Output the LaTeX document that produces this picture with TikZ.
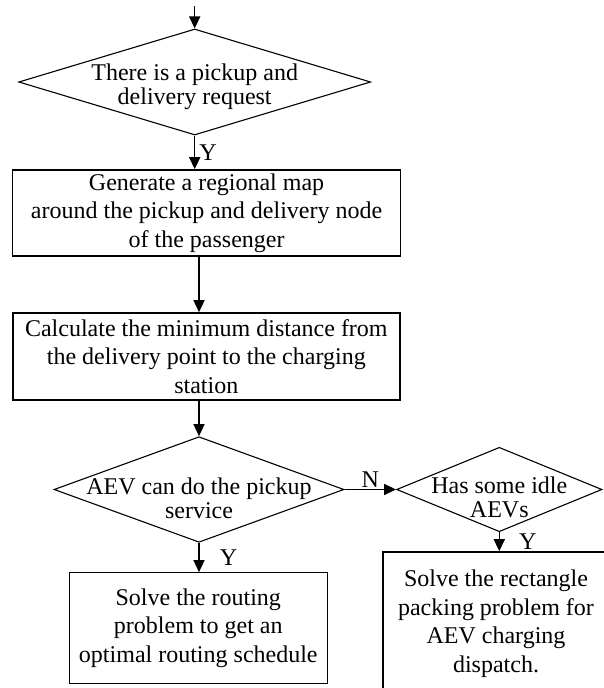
\documentclass[tikz,border=0pt]{standalone}
\usepackage{fontspec}
\setmainfont{Liberation Serif}
\usetikzlibrary{
	arrows.meta,
	positioning,
	shapes.geometric
}

\begin{document}
\begin{tikzpicture}[
 x=1pt,y=-1pt,
 procbox/.style={draw,rectangle,line width=1.6pt,inner sep=2pt,align=center,
   font=\fontsize{24}{28.5}\selectfont},
 decision/.style={draw,diamond,line width=1.1pt,inner sep=0pt},
 dtext/.style={align=center,inner sep=0pt,font=\fontsize{24}{24}\selectfont},
 answer/.style={inner sep=0pt,font=\fontsize{24}{24}\selectfont},
 flow/.style={-{Triangle[length=12pt,width=11pt]},line width=1.5pt}
]
 \useasboundingbox (0,0) rectangle (604,688);
 \clip (0,0) rectangle (604,688);
 \coordinate (entry) at (194.7,6);
 \node[decision,minimum width=352,minimum height=106] (request) at (194.7,82) {};
 \node[dtext] (requesttxt) at (194.7,86.4) {There is a pickup and\\delivery request};
 \node[procbox,minimum width=388,minimum height=86] (regionmap) at (206.6,213)
   {Generate a regional map\\around the pickup and delivery node\\of the passenger};
 \node[procbox,minimum width=387,minimum height=87] (mindist) at (206.3,356.5)
   {Calculate the minimum distance from\\the delivery point to the charging\\station};
 \node[decision,minimum width=290,minimum height=105.6] (canserve) at (199,489.5) {};
 \node[dtext] (canservetxt) at (199,497.8) {AEV can do the pickup\\service};
 \node[decision,minimum width=205.4,minimum height=84.4] (idle) at (499.3,489.5) {};
 \node[dtext] (idletxt) at (499.3,497.8) {Has some idle\\AEVs};
 \node[procbox,line width=1.1pt,minimum width=258.5,minimum height=110.6] (routing)
   at (198.3,628) {Solve the routing\\problem to get an\\optimal routing schedule};
 \node[procbox,minimum width=226,minimum height=143] (packing) at (496,623.5)
   {Solve the rectangle\\packing problem for\\AEV charging\\dispatch.};
 \draw[flow] (entry) -- (request.north);
 \draw[flow] (request.south) --
   node[answer,right=4pt] (yes1) {Y} (request.south |- regionmap.north);
 \draw[flow] (regionmap.south -| canserve.north) -- (mindist.north -| canserve.north);
 \draw[flow] (mindist.south -| canserve.north) -- (canserve.north);
 \draw[flow] (canserve.east) -- node[answer,above=1.5pt] (no1) {N} (idle.west);
 \draw[flow] (canserve.south) --
   node[answer,right=20pt] (yes2) {Y} (canserve.south |- routing.north);
 \draw[flow] (idle.south) --
   node[answer,right=19pt] (yes3) {Y} (idle.south |- packing.north);
\end{tikzpicture}
\end{document}
